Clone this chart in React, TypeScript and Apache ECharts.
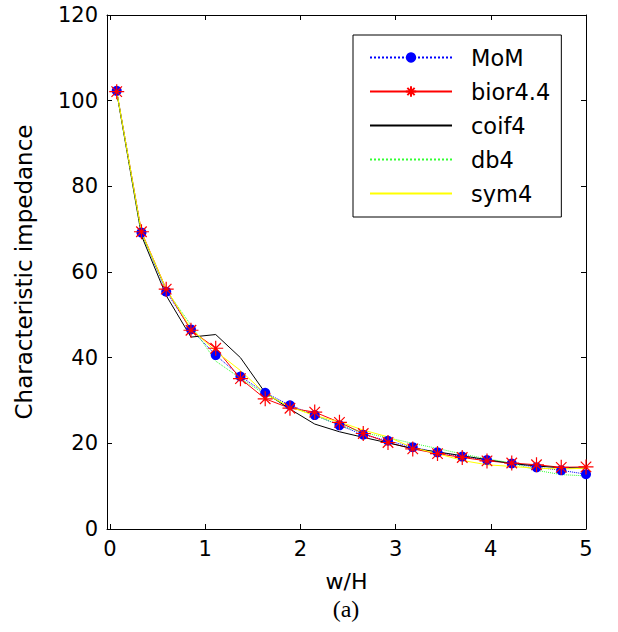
import React, { useEffect, useRef } from "react";
import * as echarts from "echarts";

const wH = [0.07, 0.33, 0.59, 0.85, 1.11, 1.37, 1.63, 1.89, 2.15, 2.41, 2.66, 2.92, 3.18, 3.44, 3.7, 3.96, 4.22, 4.48, 4.74, 5.0];
const mom = [102.3, 69.2, 55.4, 46.6, 40.6, 35.6, 31.8, 28.9, 26.6, 24.2, 22.0, 20.6, 19.1, 17.9, 16.9, 16.1, 15.3, 14.4, 13.7, 12.8];
const bior = [102.1, 69.4, 56.0, 46.4, 42.2, 35.1, 30.4, 28.2, 27.3, 24.9, 22.3, 20.2, 18.7, 17.6, 16.7, 15.9, 15.4, 15.0, 14.4, 14.5];
const coif = [102.0, 68.5, 54.5, 44.8, 45.4, 40.0, 31.8, 28.0, 24.5, 22.7, 21.4, 20.1, 18.8, 18.0, 17.1, 16.2, 15.3, 14.7, 14.3, 14.2];
const db4 = [102.0, 69.0, 55.8, 47.6, 39.2, 35.2, 31.4, 28.6, 26.5, 24.3, 22.5, 21.3, 20.0, 18.8, 17.5, 16.4, 15.4, 13.7, 12.7, 12.4];
const sym4 = [102.2, 69.3, 56.0, 46.8, 41.5, 37.0, 31.6, 28.5, 26.5, 25.0, 23.1, 21.5, 19.0, 17.6, 16.0, 15.0, 14.6, 14.2, 14.0, 14.2];
const xTicks = [0, 1, 2, 3, 4, 5];
const seriesNames = ["MoM", "bior4.4", "coif4", "db4", "sym4"];

const FONT = "'DejaVu Sans', 'Liberation Sans', Arial, sans-serif";
const ASTERISK = "path://M-1,0L1,0M0,-1L0,1M-0.7,-0.7L0.7,0.7M-0.7,0.7L0.7,-0.7";

const pairs = (ys: number[]) => wH.map((x, i) => [x, ys[i]]);

export default function App() {
  const ref = useRef<HTMLDivElement>(null);
  useEffect(() => {
    if (!ref.current) return;
    const chart = echarts.init(ref.current, null, { renderer: "svg" });
    const axisLine = { show: true, onZero: false, lineStyle: { color: "#000", width: 1 } };
    const tick = { show: true, inside: true, length: 5, lineStyle: { color: "#000" } };
    chart.setOption({
      animation: false,
      backgroundColor: "#fff",
      grid: { left: 107, right: 32, top: 15, bottom: 103 },
      xAxis: [
        {
          type: "value", min: -0.032, max: 5,
          axisLine, splitLine: { show: false },
          axisTick: { ...tick, customValues: xTicks },
          axisLabel: { color: "#000", fontSize: 21, fontFamily: FONT, margin: 9, customValues: xTicks },
          name: "w/H", nameLocation: "middle", nameGap: 41,
          nameTextStyle: { color: "#000", fontSize: 22, fontFamily: FONT, lineHeight: 22 },
        },
        {
          type: "value", position: "top", min: -0.032, max: 5,
          axisLine, splitLine: { show: false },
          axisTick: { ...tick, customValues: xTicks },
          axisLabel: { show: false },
        },
      ],
      yAxis: [
        {
          type: "value", min: 0, max: 120, interval: 20,
          axisLine, splitLine: { show: false }, axisTick: tick,
          axisLabel: { color: "#000", fontSize: 21, fontFamily: FONT, margin: 9 },
          name: "Characteristic impedance", nameLocation: "middle", nameGap: 72,
          nameTextStyle: { color: "#000", fontSize: 23, fontFamily: FONT },
        },
        {
          type: "value", position: "right", min: 0, max: 120, interval: 20,
          axisLine, splitLine: { show: false }, axisTick: tick,
          axisLabel: { show: false },
        },
      ],
      legend: {
        orient: "vertical",
        left: 353, top: 35,
        padding: [11, 11, 12, 16],
        itemGap: 11,
        itemWidth: 82, itemHeight: 13,
        borderColor: "#000", borderWidth: 1, borderRadius: 0,
        backgroundColor: "#fff",
        textStyle: { color: "#000", fontSize: 22.5, fontFamily: FONT, lineHeight: 22, padding: [0, 0, 0, 14] },
        data: [
          { name: seriesNames[0] },
          { name: seriesNames[1] },
          { name: seriesNames[2], itemStyle: { opacity: 0 } },
          { name: seriesNames[3], itemStyle: { opacity: 0 } },
          { name: seriesNames[4], itemStyle: { opacity: 0 } },
        ],
      },
      series: [
        {
          name: seriesNames[0], type: "line", data: pairs(mom),
          symbol: "circle", symbolSize: 10, showSymbol: true,
          lineStyle: { color: "#0000ff", width: 1, type: "dotted" },
          itemStyle: { color: "#0000ff" },
        },
        {
          name: seriesNames[1], type: "line", data: pairs(bior),
          symbol: ASTERISK, symbolSize: 15, showSymbol: true,
          lineStyle: { color: "#ff0000", width: 1 },
          itemStyle: { color: "none", borderColor: "#ff0000", borderWidth: 1.2 },
        },
        {
          name: seriesNames[2], type: "line", data: pairs(coif), showSymbol: false, symbol: "none",
          lineStyle: { color: "#000000", width: 1 }, itemStyle: { color: "#000" },
        },
        {
          name: seriesNames[3], type: "line", data: pairs(db4), showSymbol: false, symbol: "none",
          lineStyle: { color: "#33ff33", width: 1, type: "dotted" }, itemStyle: { color: "#33ff33" },
        },
        {
          name: seriesNames[4], type: "line", data: pairs(sym4), showSymbol: false, symbol: "none",
          lineStyle: { color: "#ffff00", width: 1 }, itemStyle: { color: "#ffff00" },
        },
      ],
      graphic: [
        {
          type: "text", x: 346, y: 609,
          style: {
            text: "(a)", fontSize: 24, lineHeight: 24, fontFamily: "'Liberation Serif', 'Times New Roman', serif",
            fill: "#000", align: "center", verticalAlign: "middle",
          },
        },
      ],
    });
    return () => chart.dispose();
  }, []);
  return <div ref={ref} style={{ width: 618, height: 632, position: "absolute", left: 0, top: 0 }} />;
}
